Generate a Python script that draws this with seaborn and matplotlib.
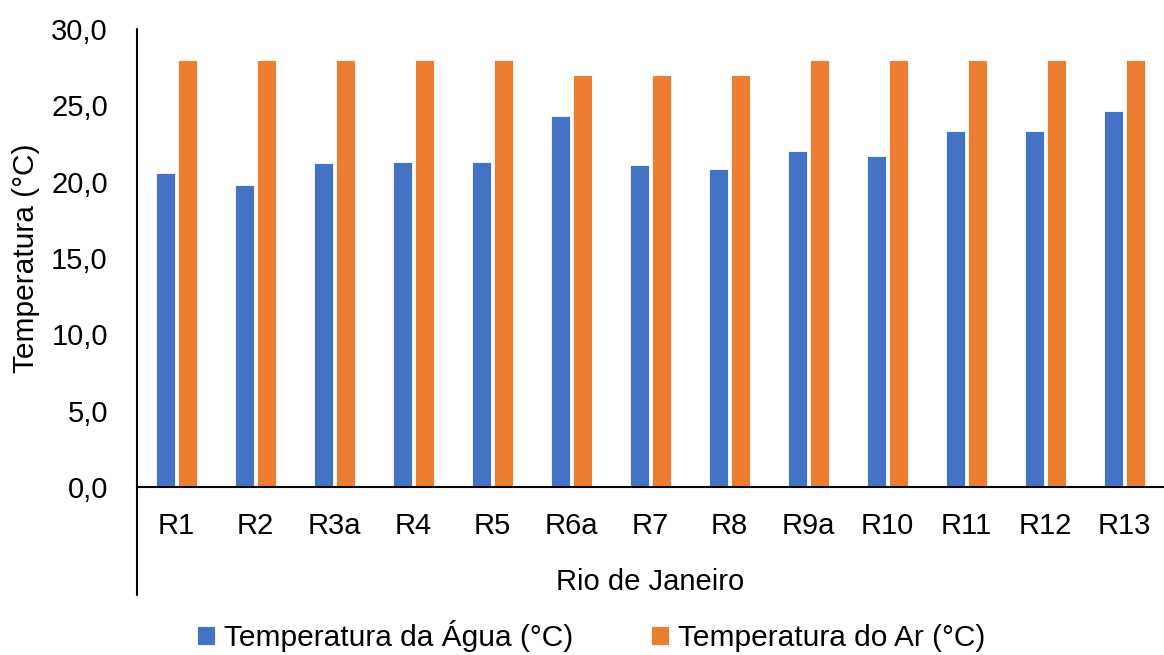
import pandas as pd
import matplotlib.pyplot as plt
import seaborn as sns
from matplotlib.ticker import FuncFormatter

# pontos de coleta
pontos = ['R1', 'R2', 'R3a', 'R4', 'R5', 'R6a', 'R7', 'R8', 'R9a', 'R10', 'R11', 'R12', 'R13']
temp_agua = [20.6, 19.8, 21.2, 21.3, 21.3, 24.3, 21.1, 20.8, 22.0, 21.7, 23.3, 23.3, 24.6]
temp_ar = [28.0, 28.0, 28.0, 28.0, 28.0, 27.0, 27.0, 27.0, 28.0, 28.0, 28.0, 28.0, 28.0]

serie_agua = 'Temperatura da Água (°C)'
serie_ar = 'Temperatura do Ar (°C)'

df = pd.DataFrame({'ponto': pontos, serie_agua: temp_agua, serie_ar: temp_ar})
df_melted = df.melt(id_vars=['ponto'], value_vars=[serie_agua, serie_ar],
                    var_name='serie', value_name='temperatura')

sns.set_style('white')
plt.rcParams['font.family'] = ['Liberation Sans', 'DejaVu Sans']
plt.rcParams['text.color'] = 'black'
plt.rcParams['axes.labelcolor'] = 'black'
plt.rcParams['xtick.color'] = 'black'
plt.rcParams['ytick.color'] = 'black'

fig = plt.figure(figsize=(11.64, 6.55), dpi=100)
ax = fig.add_axes([0.1177, 0.2565, 0.8823, 0.6992])

sns.barplot(data=df_melted, x='ponto', y='temperatura', hue='serie',
            order=pontos, hue_order=[serie_agua, serie_ar],
            palette=['#4472C4', '#ED7D31'], saturation=1, width=0.58, gap=0.17,
            edgecolor='white', linewidth=0.6, ax=ax)

ax.set_ylim(0, 30)
ax.set_xlim(-0.5, len(pontos) - 0.5)
ax.set_yticks([0, 5, 10, 15, 20, 25, 30])
ax.yaxis.set_major_formatter(FuncFormatter(lambda v, p: f'{v:.1f}'.replace('.', ',')))
ax.tick_params(axis='y', length=0, pad=21, labelsize=21)
ax.tick_params(axis='x', length=0, pad=18, labelsize=21)

for s in ['top', 'right']:
    ax.spines[s].set_visible(False)
ax.spines['bottom'].set_color('black')
ax.spines['bottom'].set_linewidth(1.5)
ax.spines['left'].set_visible(False)
# eixo vertical estendido abaixo (estilo eixo de categorias do Excel)
ax.plot([0, 0], [-0.236, 1.0], transform=ax.transAxes, color='black',
        linewidth=1.5, clip_on=False)

ax.set_xlabel('Rio de Janeiro', fontsize=21, labelpad=20)
ax.set_ylabel('Temperatura (°C)', fontsize=21.5)
ax.yaxis.set_label_coords(-0.094, 0.50)

handles, labels = ax.get_legend_handles_labels()
ax.get_legend().remove()
fig.legend(handles, labels, loc='lower center', bbox_to_anchor=(0.508, -0.036),
           ncol=2, frameon=False, fontsize=21.5, handlelength=0.6, handleheight=0.6,
           handletextpad=0.3, columnspacing=2.6)

plt.savefig('out.png', dpi=100)
plt.close()
